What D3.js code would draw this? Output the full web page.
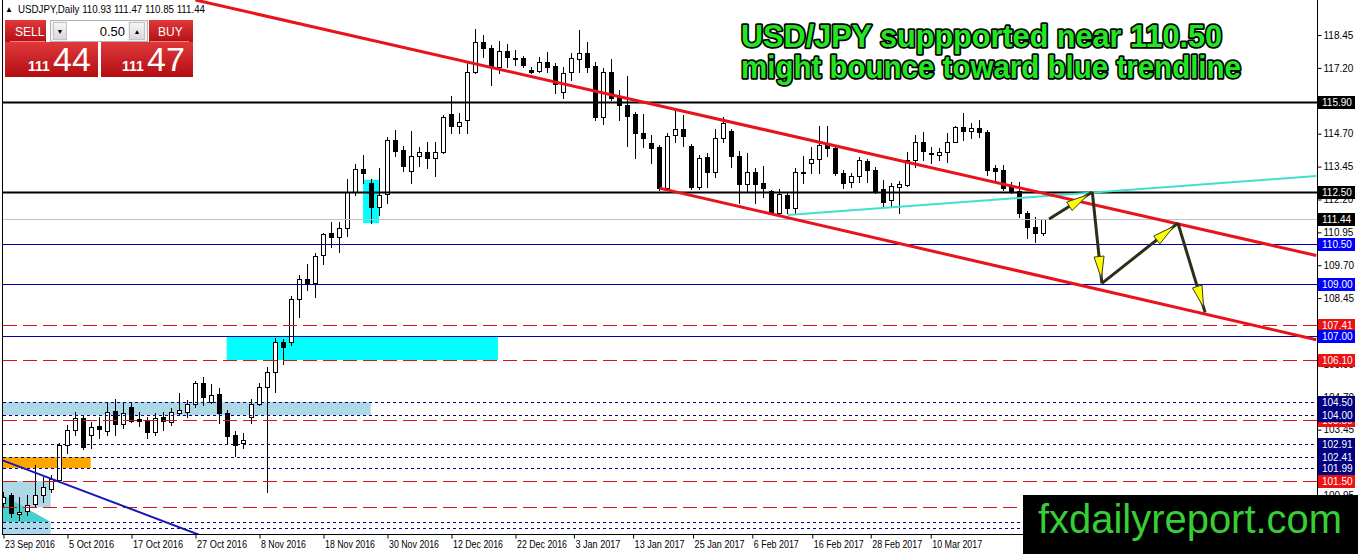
<!DOCTYPE html>
<html lang="en">
<head>
<meta charset="utf-8">
<title>USDJPY Daily</title>
<script src="https://d3js.org/d3.v7.min.js"></script>
<style>
body{margin:0;background:#fff;}
svg{display:block;font-family:"Liberation Sans",Arial,sans-serif;}
.axis text{font-size:10px;fill:#000;font-family:"Liberation Sans",Arial,sans-serif;}
.axis line{stroke:#000;}
</style>
</head>
<body>
<script>
// daily candles, first bar = 23 Sep 2016
var opens = [100.67,100.97,100.23,100.36,100.62,100.97,101.19,101.54,102.87,103.44,
  103.89,103.25,103.59,103.40,104.16,103.66,104.31,103.85,103.82,103.36,
  103.93,103.74,104.08,104.12,104.42,105.22,104.50,104.80,104.08,103.25,
  102.94,103.93,104.42,105.07,105.64,106.78,106.78,108.42,109.18,109.02,
  110.09,110.92,110.77,111.11,112.48,113.36,112.82,111.91,112.41,114.46,
  114.08,113.28,113.85,114.00,113.77,114.00,115.45,114.99,115.22,117.04,
  118.18,117.96,117.23,117.84,117.58,117.58,117.12,117.08,117.42,117.27,
  116.28,117.04,117.54,117.77,117.27,115.33,117.04,116.09,115.79,115.45,
  114.73,114.34,114.19,112.63,114.65,114.88,114.23,112.67,113.81,113.24,
  114.54,114.80,113.85,112.79,113.24,112.82,112.52,111.68,112.37,111.87,
  113.24,113.58,113.74,114.27,114.15,113.20,112.86,113.09,113.66,113.32,
  112.60,112.18,112.67,112.75,113.70,114.38,113.96,113.89,114.00,114.38,
  114.95,114.80,114.92,114.76,113.39,113.32,112.67,112.52,111.68,111.15,110.93];
var highs = [101.08,101.04,100.89,100.97,102.11,101.65,101.73,102.94,103.63,104.12,
  103.97,103.74,103.93,104.46,104.61,104.46,104.46,104.12,103.93,104.08,
  104.12,104.27,104.84,104.58,105.30,105.45,105.18,105.03,104.20,103.40,
  103.32,104.61,105.22,105.83,106.93,106.90,108.53,109.33,109.75,110.16,
  110.92,111.34,111.34,112.98,113.55,113.89,112.98,113.39,114.57,114.84,
  114.23,114.80,114.19,114.38,114.38,115.41,116.13,115.49,117.39,118.68,
  118.45,118.07,118.22,118.11,117.88,117.65,117.23,117.61,117.80,117.39,
  117.23,117.77,118.64,118.18,117.42,117.20,117.54,116.36,116.89,115.52,
  115.45,114.65,114.27,114.73,115.60,115.41,114.31,113.89,113.96,114.88,
  115.33,114.88,114.04,113.96,113.39,113.47,112.56,112.60,112.44,113.39,
  113.85,114.19,114.99,114.99,114.19,113.32,113.20,113.81,113.74,113.43,
  112.94,112.82,112.90,114.00,114.65,114.76,114.19,114.15,114.73,114.99,
  115.49,115.11,115.22,114.84,113.51,113.51,112.86,112.86,111.76,111.53,111.47];
var lows = [100.55,100.13,100.02,100.21,100.51,100.70,101.08,101.46,102.56,103.25,
  102.71,102.75,103.13,103.25,103.25,103.51,103.74,103.59,103.13,103.25,
  103.44,103.63,104.04,103.93,104.31,104.39,104.46,103.70,102.94,102.45,
  102.75,103.70,104.39,101.08,104.88,105.94,106.67,107.73,108.76,108.49,
  109.75,110.39,110.20,110.81,112.37,112.82,111.30,111.61,112.06,113.85,
  113.28,112.82,113.47,113.39,113.09,113.96,114.73,114.73,114.73,117.01,
  117.61,116.55,117.01,117.23,117.31,117.23,117.01,117.04,117.04,116.25,
  116.06,116.74,117.04,117.04,115.22,115.07,115.98,115.22,114.23,113.77,
  114.19,113.58,112.56,112.56,114.38,114.23,112.60,112.60,112.67,113.05,
  114.38,113.43,112.06,112.48,112.06,112.29,111.65,111.61,111.68,111.68,
  112.82,113.20,113.20,113.85,113.13,112.63,112.67,112.86,112.86,112.44,
  111.91,111.91,111.68,112.71,113.43,113.70,113.58,113.70,113.62,114.38,
  114.46,114.54,114.57,113.13,112.94,112.56,112.44,111.53,110.73,110.58,110.85];
var closes = [100.90,100.28,100.33,100.59,100.97,101.27,101.57,102.87,103.44,103.89,
  102.79,103.55,103.47,104.12,103.66,104.08,103.78,103.78,103.36,103.89,
  103.78,104.12,104.20,104.42,105.22,104.69,104.77,104.08,103.21,102.87,
  103.06,104.42,105.07,105.64,106.78,106.59,108.42,109.18,109.02,110.05,
  110.89,110.77,111.11,112.48,113.36,113.20,111.91,112.37,114.46,114.04,
  113.47,113.85,114.00,113.77,114.00,115.33,114.99,115.14,117.04,118.18,
  117.96,117.23,117.84,117.61,117.56,117.31,117.04,117.42,117.23,116.59,
  117.01,117.58,117.77,117.23,115.33,117.04,116.06,115.79,115.37,114.73,
  114.54,114.15,112.63,114.61,114.88,114.61,112.67,113.77,113.24,114.54,
  115.11,113.85,112.79,113.24,112.79,112.63,111.68,112.41,111.87,113.24,
  113.20,113.74,114.27,114.15,113.20,112.82,113.09,113.70,113.32,112.52,
  112.10,112.71,112.79,113.70,114.38,114.04,113.93,114.00,114.38,114.95,
  114.80,114.92,114.76,113.32,113.28,112.63,112.52,111.68,111.15,110.92,111.44];
var askPrice = 111.47;

var dateLabels = ["23 Sep 2016","5 Oct 2016","17 Oct 2016","27 Oct 2016","8 Nov 2016","18 Nov 2016",
  "30 Nov 2016","12 Dec 2016","22 Dec 2016","3 Jan 2017","13 Jan 2017","25 Jan 2017",
  "6 Feb 2017","16 Feb 2017","28 Feb 2017","10 Mar 2017"];
var dateBars = [0,8,16,24,32,40,48,56,64,71.3,78.7,86.2,93.6,101.1,108.4,115.9];

var priceTicks = [118.45,117.20,115.95,114.70,113.45,112.20,110.95,109.70,108.45,107.20,
  105.95,104.70,103.45,102.20,100.95];

// horizontal levels
var blackLevels = [115.90,112.50];
var blueLevels = [110.50,109.00,107.00];
var redLevels = [107.41,106.10,103.80,101.50,100.50];
var navyLevels = [104.50,104.00,102.91,102.41,101.99,99.93,99.70];

// rectangles: [bar from, bar to], [price top, price bottom]
var zoneBars = [[-0.5,45.9],[-0.5,10.9],[-0.5,5.9],[-0.5,5.9],[27.9,61.8],[44.95,46.95]];
var zonePrices = [[104.50,104.00],[102.41,101.99],[101.50,100.50],[99.93,99.40],[107.00,106.10],[112.95,111.30]];
var zoneColors = ["#add8e6","#ffa500","#add8e6","#add8e6","#00ffff","#00ffff"];
var triangle = [[-0.5,101.04],[5.9,99.94],[-0.5,99.94]];

// trend lines [bar, price]
var upperChannel = [[24,119.78],[164.1,110.07]];
var lowerChannel = [[82,112.63],[164.1,106.87]];
var cyanTrend = [[98,111.61],[164.1,113.09]];
var blueTrend = [[-0.5,102.33],[24.5,99.45]];
var arrowPath = [[130.7,111.46],[136.1,112.48],[137.3,109.01],[146.8,111.30],[150.2,107.91]];

var W = 1358, H = 554;
var plotRight = 1317, plotBottom = 534, logoTop = 495;

var svg = d3.select("body").append("svg").attr("width", W).attr("height", H);

var x = d3.scaleLinear().domain([0,1]).range([3.5,11.5]);
var y = d3.scaleLinear().domain([118.45,101.50]).range([35,481]);
var f2 = d3.format(".2f");
function cy(p){ return Math.round(y(p)) + 0.5; }

svg.append("clipPath").attr("id","plot")
  .append("rect").attr("x",3).attr("y",0).attr("width",plotRight-3).attr("height",plotBottom);

var plot = svg.append("g").attr("clip-path","url(#plot)");

// zones
plot.selectAll("rect.zone").data(zoneBars).enter().append("rect")
  .attr("class","zone")
  .attr("x", function(d){ return x(d[0]); })
  .attr("width", function(d){ return x(d[1]) - x(d[0]); })
  .attr("y", function(d,i){ return y(zonePrices[i][0]); })
  .attr("height", function(d,i){ return y(zonePrices[i][1]) - y(zonePrices[i][0]); })
  .attr("fill", function(d,i){ return zoneColors[i]; });

plot.append("path")
  .attr("d", d3.line().x(function(d){ return x(d[0]); }).y(function(d){ return y(d[1]); })(triangle) + "Z")
  .attr("fill","#48d1cc");

// levels
function levels(list, color, width, dash){
  plot.selectAll(null).data(list).enter().append("line")
    .attr("x1",3).attr("x2",plotRight)
    .attr("y1", cy).attr("y2", cy)
    .attr("stroke", color).attr("stroke-width", width)
    .attr("stroke-dasharray", dash);
}

// candles
var idx = d3.range(closes.length);
var candles = plot.selectAll("g.c").data(idx).enter().append("g");
candles.append("line")
  .attr("x1", function(i){ return x(i); }).attr("x2", function(i){ return x(i); })
  .attr("y1", function(i){ return Math.round(y(highs[i])); })
  .attr("y2", function(i){ return Math.round(y(lows[i])) + 1; })
  .attr("stroke","#000");
candles.append("rect")
  .attr("x", function(i){ return x(i) - 2; })
  .attr("width", 4)
  .attr("y", function(i){ return cy(Math.max(opens[i],closes[i])); })
  .attr("height", function(i){ return Math.max(1, cy(Math.min(opens[i],closes[i])) - cy(Math.max(opens[i],closes[i]))); })
  .attr("fill", function(i){ return closes[i] >= opens[i] ? "#fff" : "#000"; })
  .attr("stroke","#000");

levels([closes[closes.length-1]], "#c0c0c0", 1, null);
levels(redLevels, "#dd1111", 1, "14,6");
levels(navyLevels, "#000080", 1, "3,3");
levels(blueLevels, "#0000b0", 1, null);
levels(blackLevels, "#000", 2, null);

// trend lines
var tl = d3.line().x(function(d){ return x(d[0]); }).y(function(d){ return y(d[1]); });
plot.append("path").attr("d", tl(blueTrend)).attr("stroke","#1818b8").attr("stroke-width",2).attr("fill","none");
plot.append("path").attr("d", tl(cyanTrend)).attr("stroke","#40e0d0").attr("stroke-width",2).attr("fill","none");
plot.append("path").attr("d", tl(upperChannel)).attr("stroke","#e8131b").attr("stroke-width",3).attr("fill","none");
plot.append("path").attr("d", tl(lowerChannel)).attr("stroke","#e8131b").attr("stroke-width",3).attr("fill","none");

// arrows
for (var k = 0; k < arrowPath.length - 1; k++){
  var a = arrowPath[k], b = arrowPath[k+1];
  var x1 = x(a[0]), y1 = y(a[1]), x2 = x(b[0]), y2 = y(b[1]);
  var dx = x2 - x1, dy = y2 - y1, len = Math.sqrt(dx*dx + dy*dy);
  var ux = dx/len, uy = dy/len;
  plot.append("line").attr("x1",x1).attr("y1",y1).attr("x2",x2).attr("y2",y2)
    .attr("stroke","#2e2e16").attr("stroke-width",3);
  var tx = x2 - ux*5, ty = y2 - uy*5;
  var bx = tx - ux*22, by = ty - uy*22;
  plot.append("polygon")
    .attr("points", [[tx,ty],[bx - uy*5, by + ux*5],[bx + uy*5, by - ux*5]].map(function(p){ return p.join(","); }).join(" "))
    .attr("fill","#ffff00").attr("stroke","#3a3a20").attr("stroke-width",1);
}

// frame
svg.append("line").attr("x1",2.5).attr("x2",2.5).attr("y1",0).attr("y2",plotBottom).attr("stroke","#000");
svg.append("line").attr("x1",plotRight+0.5).attr("x2",plotRight+0.5).attr("y1",0).attr("y2",plotBottom+1).attr("stroke","#000");
svg.append("line").attr("x1",2).attr("x2",plotRight+1).attr("y1",plotBottom+0.5).attr("y2",plotBottom+0.5).attr("stroke","#000");

// price axis
var yAxis = svg.append("g").attr("class","axis")
  .attr("transform","translate(" + (plotRight+0.5) + ",0)")
  .call(d3.axisRight(y).tickValues(priceTicks).tickFormat(f2).tickSize(4).tickPadding(2));
yAxis.select(".domain").remove();

// date axis
var xAxis = svg.append("g").attr("class","axis")
  .attr("transform","translate(0," + (plotBottom+0.5) + ")")
  .call(d3.axisBottom(x).tickValues(dateBars).tickFormat(function(d,i){ return dateLabels[i]; }).tickSize(4));
xAxis.select(".domain").remove();
xAxis.selectAll("text").attr("text-anchor","start").attr("dx",1).attr("y",6)
  .attr("font-size",9.5).attr("textLength",function(d,i){ return dateLabels[i].length > 10 ? 50 : 45; })
  .attr("lengthAdjust","spacingAndGlyphs");

// price boxes on the axis (those under the logo are hidden anyway)
function boxes(list, color){
  var g = svg.selectAll(null).data(list.filter(function(d){ return y(d) < logoTop - 6; })).enter().append("g")
    .attr("transform", function(d){ return "translate(" + (plotRight+1) + "," + (Math.round(y(d)) - 6) + ")"; });
  g.append("rect").attr("width",37).attr("height",13).attr("fill",color);
  g.append("text").attr("x",4).attr("y",10).attr("fill","#fff").attr("font-size",10).text(f2);
}
boxes(redLevels, "#ee1111");
boxes(navyLevels, "#000080");
boxes(blueLevels, "#0000ff");
boxes(blackLevels.concat([closes[closes.length-1]]), "#000");

// headline
var head = svg.append("g").attr("font-weight","bold").attr("font-size",31)
  .attr("fill","#22e622").attr("stroke","#000").attr("stroke-width",3.5)
  .attr("stroke-linejoin","round").attr("paint-order","stroke");
head.append("text").attr("x",741).attr("y",47).attr("textLength",481).attr("lengthAdjust","spacingAndGlyphs")
  .text("USD/JPY suppported near 110.50");
head.append("text").attr("x",741).attr("y",78).attr("textLength",500).attr("lengthAdjust","spacingAndGlyphs")
  .text("might bounce toward blue trendline");

// trade panel
var last = closes.length - 1;
svg.append("text").attr("x",5).attr("y",12).attr("font-size",8).text("\u25B2");
svg.append("text").attr("x",18).attr("y",13).attr("font-size",11).attr("textLength",187).attr("lengthAdjust","spacingAndGlyphs")
  .text("USDJPY,Daily  " + [opens[last],highs[last],lows[last],closes[last]].map(f2).join(" "));

var defs = svg.append("defs");
var gr = defs.append("linearGradient").attr("id","red").attr("x1",0).attr("x2",0).attr("y1",0).attr("y2",1);
gr.append("stop").attr("offset","0").attr("stop-color","#e0393c");
gr.append("stop").attr("offset","1").attr("stop-color","#b30d12");
var gr2 = defs.append("linearGradient").attr("id","btn").attr("x1",0).attr("x2",0).attr("y1",0).attr("y2",1);
gr2.append("stop").attr("offset","0").attr("stop-color","#f6f6f6");
gr2.append("stop").attr("offset","1").attr("stop-color","#d8d8d8");

var panel = svg.append("g");
panel.append("rect").attr("x",5).attr("y",20).attr("width",41).attr("height",23).attr("fill","url(#red)");
panel.append("rect").attr("x",149).attr("y",20).attr("width",44).attr("height",23).attr("fill","url(#red)");
panel.append("rect").attr("x",5).attr("y",42).attr("width",93).attr("height",35).attr("fill","url(#red)");
panel.append("rect").attr("x",101).attr("y",42).attr("width",92).attr("height",35).attr("fill","url(#red)");
panel.append("line").attr("x1",10).attr("x2",45).attr("y1",41.5).attr("y2",41.5).attr("stroke","#f08080");
panel.append("line").attr("x1",150).attr("x2",189).attr("y1",41.5).attr("y2",41.5).attr("stroke","#f08080");
panel.append("rect").attr("x",50.5).attr("y",20.5).attr("width",97).attr("height",21).attr("fill","#f0f0f0").attr("stroke","#b4b4b4");
panel.append("rect").attr("x",53.5).attr("y",22.5).attr("width",13).attr("height",17).attr("fill","url(#btn)").attr("stroke","#c4c4c4");
panel.append("rect").attr("x",67).attr("y",21).attr("width",61).attr("height",20).attr("fill","#fff");
panel.append("rect").attr("x",129.5).attr("y",22.5).attr("width",15).attr("height",17).attr("fill","url(#btn)").attr("stroke","#c4c4c4");
panel.append("text").attr("x",60).attr("y",34).attr("font-size",7).attr("text-anchor","middle").text("\u25BC");
panel.append("text").attr("x",137).attr("y",34).attr("font-size",7).attr("text-anchor","middle").text("\u25B2");
panel.append("text").attr("x",125).attr("y",36).attr("font-size",13).attr("text-anchor","end").text("0.50");
panel.append("text").attr("x",15).attr("y",36).attr("font-size",12).attr("fill","#fff").text("SELL");
panel.append("text").attr("x",158).attr("y",36).attr("font-size",12).attr("fill","#fff").text("BUY");
var bidTxt = f2(closes[last]).split("."), askTxt = f2(askPrice).split(".");
panel.append("text").attr("x",28).attr("y",71).attr("font-size",14).attr("font-weight","bold").attr("fill","#fff").text(bidTxt[0]);
panel.append("text").attr("x",53).attr("y",71).attr("font-size",34).attr("fill","#fff").text(bidTxt[1]);
panel.append("text").attr("x",122).attr("y",71).attr("font-size",14).attr("font-weight","bold").attr("fill","#fff").text(askTxt[0]);
panel.append("text").attr("x",147).attr("y",71).attr("font-size",34).attr("fill","#fff").text(askTxt[1]);

// site logo
svg.append("rect").attr("x",1023).attr("y",logoTop).attr("width",W-1023).attr("height",H-logoTop).attr("fill","#000");
svg.append("text").attr("x",1038).attr("y",533).attr("font-size",40).attr("fill","#36cf36")
  .attr("textLength",304).attr("lengthAdjust","spacingAndGlyphs").text("fxdailyreport.com");
</script>
</body>
</html>
